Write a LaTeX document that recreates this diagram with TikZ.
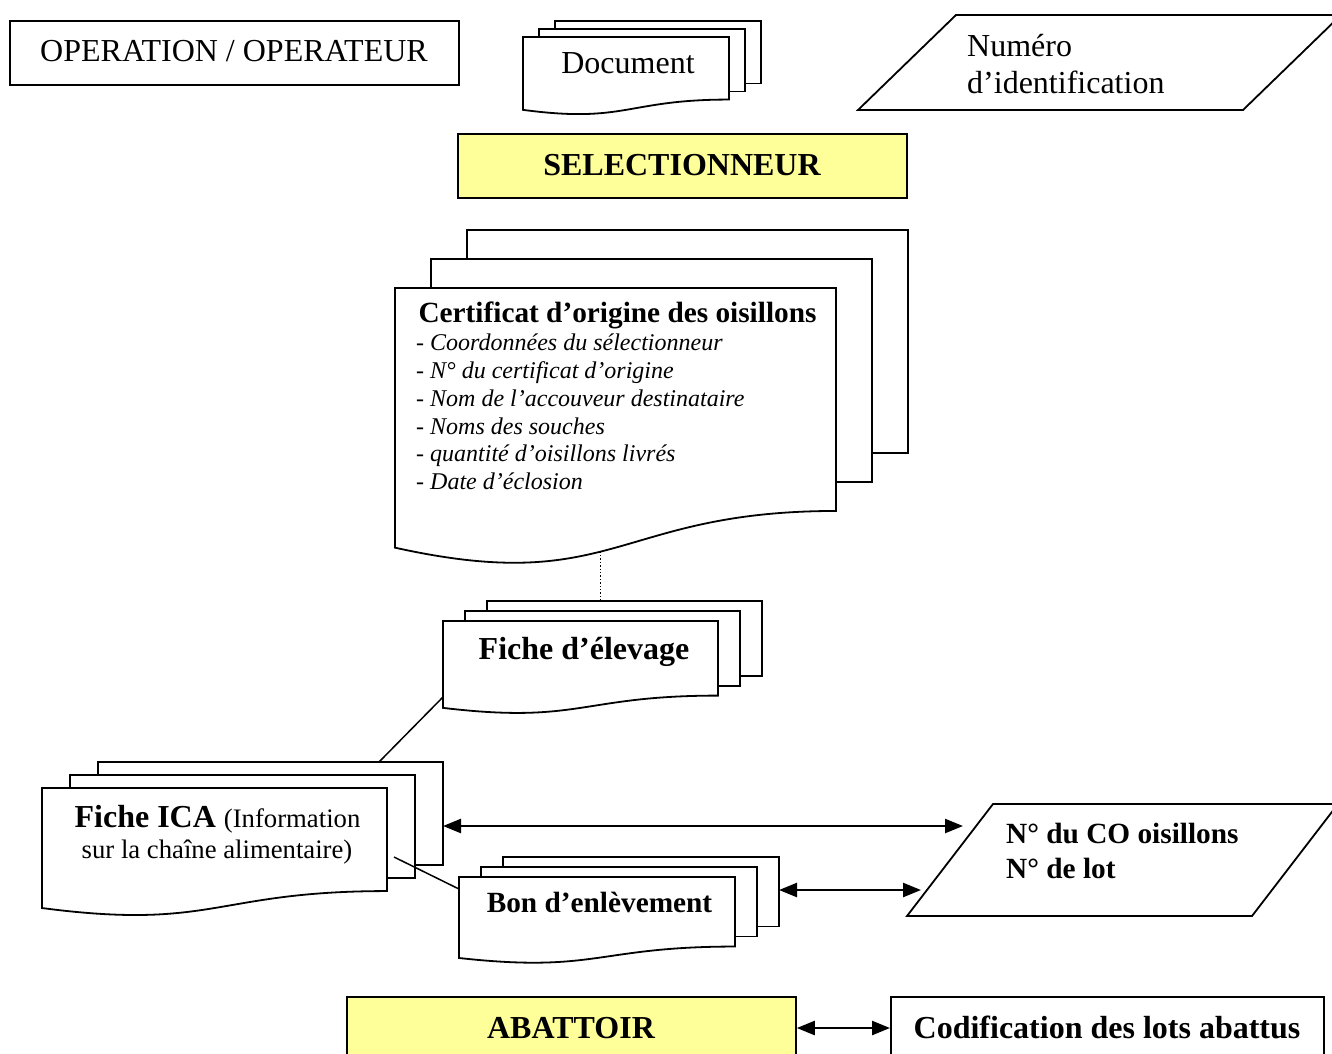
\documentclass[tikz,border=0pt]{standalone}
\usepackage{fontspec}
\setmainfont{Liberation Serif}
\usetikzlibrary{arrows.meta,calc}
\definecolor{lightyel}{HTML}{FFFF99}
\newcommand{\fsz}[1]{\fontsize{#1}{#1}\selectfont}
\tikzset{
  page/.style={draw, fill=white, line width=1.8pt, line join=miter},
  boxline/.style={draw, line width=1.8pt, line join=miter},
  txt/.style={anchor=base, inner sep=0pt},
  txtl/.style={anchor=base west, inner sep=0pt},
  dbl/.style={{Triangle[length=18pt,width=14pt]}-{Triangle[length=18pt,width=14pt]}, line width=2.4pt},
  conn/.style={line width=1.5pt},
}
% name, L, T, W, H, dx, dy
\newcommand{\mdoc}[7]{%
  \draw[page] ({#2+2*#6},{#3-2*#7}) coordinate (#1-b) rectangle ({#2+2*#6+#4},{#3-2*#7+0.802*#5});
  \draw[page] ({#2+#6},{#3-#7}) coordinate (#1-m) rectangle ({#2+#6+#4},{#3-#7+0.802*#5});
  \draw[page] (#2,#3) coordinate (#1-f) -- ({#2+#4},#3) -- ({#2+#4},{#3+0.802*#5})
    .. controls ({#2+0.5*#4},{#3+0.802*#5}) and ({#2+0.5*#4},{#3+1.11*#5}) ..
    ({#2},{#3+0.934*#5}) coordinate[pos=0.545] (#1-bot) -- cycle;
}
\begin{document}
\begin{tikzpicture}[x=1pt,y=-1pt]
\useasboundingbox (0,0) rectangle (1332,1053);

% top row
\draw[boxline] (10,21) rectangle (459,85);
\node[txt, font=\fsz{32}] (t-op) at (234,61) {OPERATION / OPERATEUR};

\mdoc{doc}{523}{37}{206}{78}{16}{8}
\node[txt, font=\fsz{32}] (t-doc) at (628,73) {Document};

\draw[boxline] (956,15) coordinate (num-tl) -- (1341,15) -- (1243,110) -- (858,110) -- cycle;
\node[txtl, font=\fsz{32}] (t-num1) at (967,56) {Numéro};
\node[txtl, font=\fsz{32}] (t-num2) at (967,93) {d’identification};

\draw[boxline, fill=lightyel] (458,134) rectangle (907,198);
\node[txt, font=\fsz{32}\bfseries] (t-sel) at (682,175) {SELECTIONNEUR};

% certificate
\mdoc{cert}{395}{288}{441}{278}{36}{29}
\node[txt, font=\fsz{29.3}\bfseries] (t-cert) at (617.5,322) {Certificat d’origine des oisillons};
\node[txtl, font=\fsz{24}\itshape] (c1) at (416,350) {- Coordonnées du sélectionneur};
\node[txtl, font=\fsz{24}\itshape] (c2) at (416,378) {- N° du certificat d’origine};
\node[txtl, font=\fsz{24}\itshape] (c3) at (416,406) {- Nom de l’accouveur destinataire};
\node[txtl, font=\fsz{24}\itshape] (c4) at (416,434) {- Noms des souches};
\node[txtl, font=\fsz{24}\itshape] (c5) at (416,461) {- quantité d’oisillons livrés};
\node[txtl, font=\fsz{24}\itshape] (c6) at (416,489) {- Date d’éclosion};

% fiche d'elevage
\mdoc{fiche}{443}{621}{275}{93}{22}{10}
\node[txt, font=\fsz{32}\bfseries] (t-fiche) at (584,659) {Fiche d’élevage};
\draw[dotted, line width=1.4pt] (cert-bot) -- (cert-bot |- fiche-b);

% ICA
\mdoc{ica}{42}{788}{345}{128.5}{28}{13}
\node[txt] (t-ica1) at (217.5,827) {\fsz{32}\bfseries Fiche ICA \fsz{26.7}\mdseries(Information};
\node[txt, font=\fsz{26.7}] (t-ica2) at (217,858) {sur la chaîne alimentaire)};

% Bon d'enlevement
\mdoc{bon}{459}{877}{276}{86.7}{22}{10}
\node[txt, font=\fsz{29.3}\bfseries] (t-bon) at (599.5,912) {Bon d’enlèvement};

% N du CO
\draw[boxline] (993,804) coordinate (co-tl) -- (1338,804) -- (1252,916) -- (907,916) coordinate (co-bl) -- cycle;
\node[txtl, font=\fsz{29.3}\bfseries] (t-co1) at (1006,843) {N° du CO oisillons};
\node[txtl, font=\fsz{29.3}\bfseries] (t-co2) at (1006,878) {N° de lot};

% connectors
\coordinate (co-a1) at (963,826);
\coordinate (co-a2) at (921,890);
\draw[conn] ($(fiche-f)+(0,76)$) -- ($(ica-b)+(281,0)$);
\draw[conn] ($(ica-f)+(352,69)$) -- ($(bon-f)+(0,12)$);
\draw[dbl] ($(ica-b)+(345,64)$) -- (co-a1);
\draw[dbl] ($(bon-b)+(276,33)$) -- (co-a2);

% bottom row
\node[boxline, fill=lightyel, anchor=north west, minimum width=449pt, minimum height=70pt, inner sep=0pt] (abat) at (346,996) {};
\node[txt, font=\fsz{32}\bfseries] (t-abat) at (571,1038) {ABATTOIR};
\node[boxline, fill=white, anchor=north west, minimum width=433pt, minimum height=70pt, inner sep=0pt] (codif) at (890,996) {};
\node[txt, font=\fsz{32}\bfseries] (t-codif) at (1107,1038) {Codification des lots abattus};
\draw[dbl] ($(abat.north east)+(0,32)$) -- ($(codif.north west)+(0,32)$);
\end{tikzpicture}
\end{document}
